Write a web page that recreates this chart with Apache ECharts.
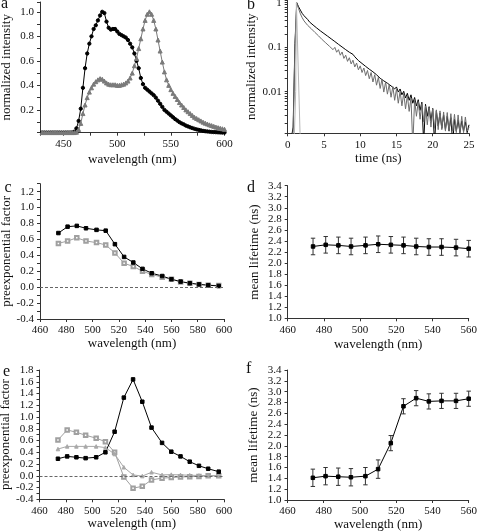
<!DOCTYPE html>
<html><head><meta charset="utf-8">
<script src="https://cdn.jsdelivr.net/npm/echarts@6/dist/echarts.min.js"></script>
<style>html,body{margin:0;padding:0;background:#fff}#c{width:478px;height:532px}</style>
</head><body><div id="c"></div>
<script>
// ---------- panel a: emission spectra ----------
const spectrumWl = [430,432,434,436,438,440,442,444,446,448,450,452,454,456,458,460,462,464,466,468,470,472,474,476,478,480,482,484,486,488,490,492,494,496,498,500,502,504,506,508,510,512,514,516,518,520,522,524,526,528,530,532,534,536,538,540,542,544,546,548,550,552,554,556,558,560,562,564,566,568,570,572,574,576,578,580,582,584,586,588,590,592,594,596,598,600];
const spectrumBlack = [0.015,0.015,0.015,0.015,0.015,0.015,0.015,0.015,0.015,0.015,0.015,0.015,0.015,0.015,
  0.016,0.022,0.05,0.11,0.21,0.38,0.54,0.66,0.74,0.80,0.86,0.89,0.93,0.97,1.0,0.99,0.92,0.87,0.855,0.86,0.86,
  0.84,0.82,0.81,0.80,0.79,0.77,0.74,0.71,0.66,0.60,0.54,0.46,0.41,0.38,0.365,0.35,0.335,0.32,0.30,0.275,
  0.25,0.225,0.20,0.185,0.17,0.155,0.14,0.125,0.113,0.10,0.09,0.082,0.072,0.065,0.058,0.052,0.046,0.041,0.037,
  0.033,0.029,0.026,0.024,0.022,0.020,0.019,0.018,0.017,0.016,0.015,0.015];
const spectrumGray = [0.015,0.015,0.015,0.015,0.015,0.015,0.015,0.015,0.015,0.015,0.015,0.015,0.015,0.015,0.015,0.015,
  0.018,0.04,0.09,0.17,0.24,0.30,0.345,0.38,0.41,0.43,0.445,0.455,0.45,0.435,0.42,0.41,0.405,0.405,0.405,
  0.40,0.40,0.405,0.41,0.42,0.435,0.46,0.50,0.56,0.62,0.70,0.78,0.86,0.93,0.98,1.0,0.98,0.93,0.86,0.77,
  0.68,0.59,0.51,0.445,0.40,0.365,0.335,0.31,0.285,0.26,0.24,0.22,0.20,0.185,0.17,0.155,0.14,0.13,0.12,
  0.11,0.10,0.092,0.085,0.078,0.072,0.066,0.06,0.055,0.05,0.046,0.042];

// ---------- panel b: fluorescence decays (0.25 ns channels from 0 ns) ----------
const decayStart = 0, decayStep = 0.25;
const decayBlack = [0.0008,0.0008,0.0009,0.0016,0.12,1.0,0.81,0.68,0.575,0.51,
  0.46,0.42,0.37,0.342,0.315,0.291,0.27,0.251,0.233,0.22,
  0.203,0.191,0.177,0.167,0.154,0.146,0.134,0.127,0.116,0.111,
  0.101,0.096,0.088,0.084,0.077,0.073,0.069,0.061,0.057,0.050,
  0.048,0.043,0.042,0.037,0.036,0.032,0.032,0.028,0.028,0.024,
  0.0245,0.020,0.021,0.0175,0.019,0.0155,0.0165,0.0135,0.0145,0.0115,
  0.0128,0.0098,0.0115,0.0085,0.0102,0.0072,0.0092,0.0064,0.0085,0.0055,
  0.0074,0.0048,0.0066,0.0038,0.0058,0.0007,0.0052,0.0028,0.0046,0.0022,
  0.0042,0.0007,0.0037,0.0017,0.0033,0.0015,0.003,0.0014,0.0028,0.0013,
  0.0026,0.0007,0.0024,0.0013,0.0023,0.0012,0.0022,0.0013,0.0021,0.0012,
  0.0018];
const decayGray = [0.0008,0.0008,0.0009,0.0012,0.1,0.98,0.74,0.56,0.46,0.39,
  0.37,0.31,0.295,0.26,0.252,0.215,0.21,0.18,0.178,0.148,
  0.152,0.125,0.132,0.105,0.114,0.088,0.099,0.077,0.088,0.066,
  0.078,0.056,0.066,0.048,0.058,0.042,0.051,0.036,0.044,0.031,
  0.038,0.027,0.034,0.023,0.030,0.0195,0.027,0.0165,0.024,0.014,
  0.021,0.0118,0.019,0.0098,0.0165,0.0088,0.0145,0.0075,0.013,0.0064,
  0.0115,0.0055,0.0102,0.0048,0.0092,0.0041,0.0082,0.0036,0.0072,0.0006,
  0.0066,0.0028,0.006,0.0024,0.0054,0.0021,0.0048,0.0018,0.0044,0.0016,
  0.0041,0.0015,0.0039,0.0014,0.0037,0.0014,0.0035,0.0013,0.0034,0.0013,
  0.0032,0.0013,0.0031,0.0012,0.003,0.0012,0.0028,0.0012,0.0027,0.0013,
  0.0016];
const irfTime = [0.9, 1.1, 1.2, 1.7, 1.8];
const irfValue = [0.0008, 0.01, 1.0, 0.0012, 0.0008];

// ---------- panels c & e: preexponential factors ----------
const pointWl = [474,481,488,495,503,510,517,524,531,538,545,553,560,567,574,581,588,596];
const ampCBlack = [0.68,0.76,0.77,0.74,0.72,0.71,0.54,0.38,0.31,0.23,0.175,0.14,0.10,0.07,0.05,0.035,0.025,0.015];
const ampCGray  = [0.55,0.58,0.62,0.58,0.56,0.53,0.43,0.30,0.26,0.20,0.16,0.125,0.10,0.065,0.05,0.035,0.025,0.02];
const ampEBlack = [0.29,0.33,0.315,0.30,0.315,0.40,0.75,1.33,1.64,1.26,0.82,0.56,0.41,0.33,0.24,0.17,0.12,0.07];
const ampEOpen  = [0.61,0.78,0.74,0.69,0.64,0.58,0.40,-0.02,-0.21,-0.18,-0.07,-0.04,-0.03,-0.02,-0.015,-0.01,0.0,0.0];
const ampETri   = [0.455,0.50,0.50,0.50,0.50,0.48,0.37,0.145,0.015,-0.005,0.06,0.015,0.02,0.015,0.01,0.005,0.005,0.0];

// ---------- panels d & f: mean lifetimes ----------
const lifetimeWl = [474,481,488,495,503,510,517,524,531,538,545,553,560];
const lifetimeD = [2.30,2.33,2.32,2.30,2.32,2.34,2.33,2.32,2.30,2.29,2.29,2.28,2.26];
const errorD    = [0.15,0.15,0.15,0.15,0.15,0.15,0.15,0.15,0.15,0.15,0.15,0.15,0.15];
const lifetimeF = [1.41,1.44,1.43,1.42,1.44,1.57,2.05,2.73,2.88,2.82,2.83,2.83,2.87];
const errorF    = [0.16,0.16,0.16,0.16,0.16,0.17,0.14,0.14,0.14,0.14,0.14,0.14,0.14];

const panelLetters = ['a','b','c','d','e','f'];
const titleWl = 'wavelength (nm)', titleTime = 'time (ns)', titleInt = 'normalized intensity',
      titlePre = 'preexponential factor', titleLife = 'mean lifetime (ns)';

// ---------- styling / building ----------
const FONT = 'Liberation Serif';
const AX = '#333', TXT = '#111';
function stepFmt(step, dec) {
  return function (v) {
    const k = v / step;
    if (Math.abs(k - Math.round(k)) > 1e-6) return '';
    return (Math.round(k) * step).toFixed(dec);
  };
}
function logFmt(v) {
  const l = Math.log10(v);
  return Math.abs(l - Math.round(l)) < 1e-6 ? String(v) : '';
}
function axis(o, minorSplit) {
  return Object.assign({
    type: 'value', nameLocation: 'middle',
    axisLine: {show: true, onZero: false, lineStyle: {color: AX, width: 1}},
    axisTick: {show: true, inside: false, length: 3, lineStyle: {color: AX, width: 1}},
    minorTick: {show: !!minorSplit, splitNumber: minorSplit || 5, length: 3, lineStyle: {color: AX, width: 1}},
    splitLine: {show: false}, minorSplitLine: {show: false},
    axisLabel: {color: TXT, fontFamily: FONT, fontSize: 11, margin: 6, formatter: o.fmt},
    nameTextStyle: {color: TXT, fontFamily: FONT, fontSize: 13},
  }, o);
}
const pairs = (xs, ys) => xs.map((x, i) => [x, ys[i]]);
const decayPairs = ys => ys.map((y, i) => [decayStart + i * decayStep, y]);

const grids = [
  {left: 40, top: 2, width: 184.5, height: 130.7},
  {left: 287.7, top: 0, width: 181.3, height: 133.3},
  {left: 40, top: 183.7, width: 184, height: 135.3},
  {left: 287.7, top: 185.7, width: 181, height: 132.6},
  {left: 39.5, top: 370, width: 184.5, height: 129.3},
  {left: 287.5, top: 370, width: 181.2, height: 130},
].map(g => Object.assign({containLabel: false, outerBoundsMode: 'none'}, g));

const xAxes = [
  axis({gridIndex: 0, min: 428, max: 600, minInterval: 50, maxInterval: 50, name: titleWl, nameGap: 20, fmt: stepFmt(50, 0)}, 2),
  axis({gridIndex: 1, min: 0, max: 25, interval: 5, name: titleTime, nameGap: 19, fmt: stepFmt(5, 0)}),
  axis({gridIndex: 2, min: 460, max: 600, interval: 20, name: titleWl, nameGap: 17, fmt: stepFmt(20, 0)}),
  axis({gridIndex: 3, min: 460, max: 560, interval: 20, name: titleWl, nameGap: 20, fmt: stepFmt(20, 0)}),
  axis({gridIndex: 4, min: 460, max: 600, interval: 20, name: titleWl, nameGap: 17, fmt: stepFmt(20, 0)}),
  axis({gridIndex: 5, min: 460, max: 560, interval: 20, name: titleWl, nameGap: 17, fmt: stepFmt(20, 0)}),
];
xAxes.forEach(a => delete a.fmt);
const yAxes = [
  axis({gridIndex: 0, min: 0.014, max: 1.08, minInterval: 0.2, maxInterval: 0.2, name: titleInt, nameGap: 27, fmt: stepFmt(0.2, 1)}, 2),
  axis({gridIndex: 1, type: 'log', logBase: 10, min: 0.00116, max: 1.15, name: titleInt, nameGap: 27, fmt: logFmt}, 9),
  axis({gridIndex: 2, min: -0.4, max: 1.3, interval: 0.2, name: titlePre, nameGap: 27, fmt: stepFmt(0.2, 1)}, 2),
  axis({gridIndex: 3, min: 1.0, max: 3.4, interval: 0.2, name: titleLife, nameGap: 27, fmt: stepFmt(0.2, 1)}),
  axis({gridIndex: 4, min: -0.4, max: 1.8, interval: 0.2, name: titlePre, nameGap: 27, fmt: stepFmt(0.2, 1)}, 2),
  axis({gridIndex: 5, min: 1.0, max: 3.4, interval: 0.2, name: titleLife, nameGap: 27, fmt: stepFmt(0.2, 1)}),
];
yAxes.forEach(a => delete a.fmt);

function lineSeries(idx, data, color, symbol, size, extra) {
  return Object.assign({
    type: 'line', xAxisIndex: idx, yAxisIndex: idx, data: data,
    symbol: symbol || 'none', symbolSize: size || 0, showSymbol: !!symbol,
    lineStyle: {color: color, width: 1}, itemStyle: {color: color, borderColor: color, borderWidth: 1},
    silent: true, clip: true,
  }, extra || {});
}
const zeroLine = () => ({silent: true, symbol: ['none', 'none'], label: {show: false},
  lineStyle: {type: [3, 2], color: '#666', width: 1}, data: [{yAxis: 0}]});

function errorBars(idx, xs, ys, es) {
  return {
    type: 'custom', xAxisIndex: idx, yAxisIndex: idx, silent: true,
    data: xs.map((x, i) => [x, ys[i], es[i]]),
    encode: {x: 0, y: 1},
    renderItem: function (params, api) {
      const x = api.value(0), y = api.value(1), e = api.value(2);
      const t = api.coord([x, y + e]), b = api.coord([x, y - e]);
      const hw = 2.2, st = {stroke: '#333', lineWidth: 1};
      return {type: 'group', children: [
        {type: 'line', shape: {x1: t[0], y1: t[1], x2: b[0], y2: b[1]}, style: st},
        {type: 'line', shape: {x1: t[0] - hw, y1: t[1], x2: t[0] + hw, y2: t[1]}, style: st},
        {type: 'line', shape: {x1: b[0] - hw, y1: b[1], x2: b[0] + hw, y2: b[1]}, style: st},
      ]};
    }
  };
}

const series = [
  lineSeries(0, pairs(spectrumWl, spectrumBlack), '#000', 'circle', 3.3),
  lineSeries(0, pairs(spectrumWl, spectrumGray), '#7a7a7a', 'triangle', 4),
  lineSeries(1, decayPairs(decayBlack), '#000'),
  lineSeries(1, decayPairs(decayGray), '#6e6e6e'),
  lineSeries(1, pairs(irfTime, irfValue), '#b5b5b5'),
  lineSeries(2, pairs(pointWl, ampCGray), '#a0a0a0', 'emptyRect', 3.5, {markLine: zeroLine()}),
  lineSeries(2, pairs(pointWl, ampCBlack), '#000', 'rect', 3.5),
  errorBars(3, lifetimeWl, lifetimeD, errorD),
  lineSeries(3, pairs(lifetimeWl, lifetimeD), '#000', 'rect', 3.5),
  lineSeries(4, pairs(pointWl, ampEOpen), '#a0a0a0', 'emptyRect', 3.5, {markLine: zeroLine()}),
  lineSeries(4, pairs(pointWl, ampETri), '#a8a8a8', 'triangle', 3.5),
  lineSeries(4, pairs(pointWl, ampEBlack), '#000', 'rect', 3.5),
  errorBars(5, lifetimeWl, lifetimeF, errorF),
  lineSeries(5, pairs(lifetimeWl, lifetimeF), '#000', 'rect', 3.5),
];

const letterPos = [[5, 5], [251, 6], [8.5, 189], [251, 189], [7, 372.5], [250, 370]];
const graphic = panelLetters.map((t, i) => ({
  type: 'text', left: letterPos[i][0] - 4, top: letterPos[i][1] - 9, silent: true,
  style: {text: t, fontFamily: FONT, fontSize: 16, fill: TXT}
}));

const chart = echarts.init(document.getElementById('c'), null, {renderer: 'canvas'});
chart.setOption({
  backgroundColor: '#fff', animation: false,
  grid: grids, xAxis: xAxes, yAxis: yAxes, series: series, graphic: graphic,
});
</script></body></html>
